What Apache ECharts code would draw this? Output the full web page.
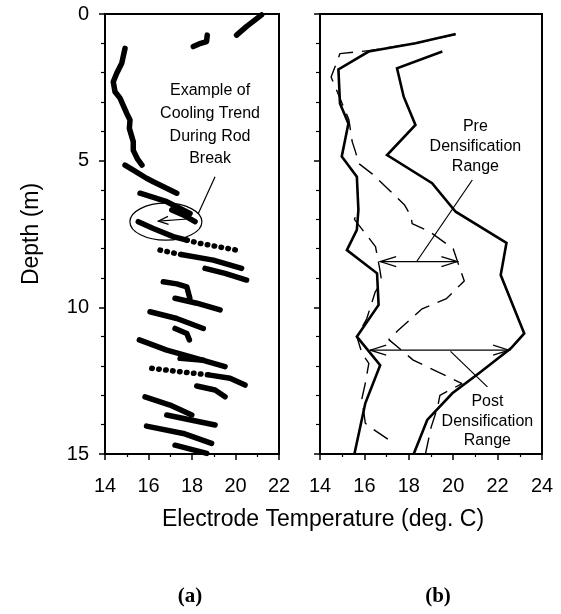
<!DOCTYPE html>
<html><head><meta charset="utf-8">
<script src="https://cdn.jsdelivr.net/npm/echarts@6.0.0/dist/echarts.min.js"></script>
<style>html,body{margin:0;padding:0;background:#fff}#c{width:561px;height:614px}</style>
</head><body><div id="c"></div>
<script>
// ---------- DATA ----------
// Axis ticks
const depthTicks = [0, 5, 10, 15];
const tempTicksA = [14, 16, 18, 20, 22];
const tempTicksB = [14, 16, 18, 20, 22, 24];

// Panel (a): electrode temperature streaks, [temperature degC, depth m]
const streak01 = [[20.05,0.72],[20.5,0.43],[21.2,0.03]];
const streak02 = [[18.06,1.11],[18.4,1.0],[18.67,0.94],[18.7,0.72]];
const streak03 = [[14.92,1.17],[14.77,1.68],[14.54,2.02],[14.38,2.31],[14.46,2.65],[14.69,2.87],[15.0,3.39],[15.15,3.61],[15.12,3.9],[15.3,4.35],[15.3,4.65],[15.5,4.95],[15.7,5.15]];
const streak04 = [[14.92,5.15],[15.3,5.32],[15.91,5.6],[16.22,5.72],[17.3,6.11]];
const streak05 = [[15.61,6.11],[16.84,6.4],[17.91,6.8]];
const streak06 = [[17.07,6.68],[17.6,6.85],[18.14,7.08]];
const streak07 = [[15.53,7.08],[16.22,7.31],[17.14,7.59],[17.76,7.71]];
const streak08 = [[17.5,8.2],[18.98,8.39],[20.28,8.67]];
const streak09 = [[18.6,8.67],[19.52,8.84],[20.51,9.07]];
const streak10 = [[16.68,9.13],[17.3,9.2],[17.76,9.3],[17.9,9.69]];
const streak11 = [[17.22,9.69],[18.22,9.86],[19.29,10.09]];
const streak12 = [[16.07,10.15],[17.3,10.38],[18.52,10.72]];
const streak13 = [[17.22,10.72],[17.76,10.89],[17.88,11.11]];
const streak14 = [[15.58,11.11],[16.84,11.46],[17.91,11.68],[19.52,12.02]];
const streak15 = [[17.45,11.74],[18.52,11.8]];
const streak16 = [[18.83,12.31],[19.75,12.42],[20.44,12.65]];
const streak17 = [[18.22,12.68],[19.06,12.82],[19.52,13.05]];
const streak18 = [[15.84,13.05],[16.99,13.33],[17.99,13.67]];
const streak19 = [[16.84,13.67],[19.06,14.01]];
const streak20 = [[15.91,14.05],[17.6,14.3],[18.9,14.64]];
const streak21 = [[17.22,14.7],[18.68,14.98]];
// sparse (dotted) streaks
const dotted01 = [[17.76,7.71],[18.37,7.82],[20.05,8.05]];
const dotted02 = [[16.53,8.05],[17.5,8.2]];
const dotted03 = [[16.15,12.08],[17.5,12.2],[18.83,12.31]];

// Panel (b): temperature envelopes, [temperature degC, depth m]
const postLeft  = [[20.11,0.68],[18.3,1.0],[16.19,1.28],[14.83,1.89],[14.9,3.05],[15.28,3.73],[14.98,4.86],[15.66,5.55],[15.73,6.68],[15.66,7.36],[15.21,8.05],[16.57,8.84],[16.64,9.92],[15.66,11.0],[16.71,11.97],[16.04,13.27],[15.55,15.0]];
const postRight = [[19.51,1.28],[17.47,1.85],[17.77,2.82],[18.3,3.78],[17.02,4.81],[19.05,5.77],[20.11,6.74],[22.4,7.8],[22.14,8.9],[23.2,10.89],[22.6,11.4],[21.16,12.25],[19.96,12.93],[18.83,13.84],[18.22,15.0]];
const preLeft   = [[14.83,1.89],[14.9,3.05],[15.28,3.73],[14.98,4.86],[15.66,5.55],[15.73,6.68],[15.55,7.0],[16.5,7.93],[16.7,8.73],[16.78,9.13],[16.49,9.47],[16.1,10.4],[15.66,11.0],[15.89,11.57],[16.2,11.91],[16.04,12.59],[15.89,13.1],[16.04,13.95],[16.34,14.13],[17.32,14.63]];
const preRight  = [[20.1,0.7],[18.3,1.0],[16.2,1.25],[14.9,1.35],[14.5,2.15],[15.3,3.6],[15.45,4.35],[15.6,4.7],[15.75,5.1],[16.35,5.45],[16.7,5.7],[17.8,6.5],[18.1,6.9],[18.15,7.15],[18.9,7.4],[20.0,8.0],[20.2,8.45],[20.5,9.1],[19.7,9.7],[18.6,10.05],[17.5,10.8],[17.1,11.1],[18.2,11.8],[20.4,12.6],[19.4,13.0],[19.3,13.4],[19.0,14.1],[18.75,15.0]];

// Texts
const xTitle = 'Electrode Temperature (deg. C)';
const yTitle = 'Depth (m)';
const noteA = ['Example of', 'Cooling Trend', 'During Rod', 'Break'];
const notePre = ['Pre', 'Densification', 'Range'];
const notePost = ['Post', 'Densification', 'Range'];

// ---------- CHART ----------
const FONT = '"Liberation Sans", Arial, sans-serif';
const solidStreaks = [streak01,streak02,streak03,streak04,streak05,streak06,streak07,streak08,streak09,streak10,streak11,streak12,streak13,streak14,streak15,streak16,streak17,streak18,streak19,streak20,streak21];
const dottedStreaks = [dotted01,dotted02,dotted03];

function xAxisCfg(grid, ticks){
  return {
    gridIndex: grid, type: 'value', min: ticks[0], max: ticks[ticks.length-1], interval: 2,
    axisLine: {show: true, onZero: false, lineStyle: {color: '#000', width: 2}},
    axisTick: {show: true, inside: false, length: 6, lineStyle: {color: '#000', width: 1.5}},
    minorTick: {show: true, splitNumber: 2, length: 3, lineStyle: {color: '#000', width: 1.2}},
    axisLabel: {show: true, color: '#000', fontSize: 20, fontFamily: FONT, margin: 22,
      customValues: ticks},
    splitLine: {show: false}, minorSplitLine: {show: false}
  };
}
function yAxisCfg(grid, labels){
  return {
    gridIndex: grid, type: 'value', inverse: true, min: depthTicks[0], max: depthTicks[depthTicks.length-1], interval: 5,
    axisLine: {show: true, onZero: false, lineStyle: {color: '#000', width: 2}},
    axisTick: {show: true, inside: false, length: 6, lineStyle: {color: '#000', width: 1.5}},
    minorTick: {show: true, splitNumber: 5, length: 4, lineStyle: {color: '#000', width: 1.2}},
    axisLabel: {show: labels, color: '#000', fontSize: 20, fontFamily: FONT, margin: 16},
    splitLine: {show: false}, minorSplitLine: {show: false}
  };
}

const series = [];
solidStreaks.forEach(s => series.push({
  type: 'line', xAxisIndex: 0, yAxisIndex: 0, data: s, showSymbol: false, symbol: 'none',
  lineStyle: {color: '#000', width: 5.5, cap: 'round', join: 'round'}, silent: true
}));
dottedStreaks.forEach(s => series.push({
  type: 'line', xAxisIndex: 0, yAxisIndex: 0, data: s, showSymbol: false, symbol: 'none',
  lineStyle: {color: '#000', width: 5.5, cap: 'round', type: [0.5, 6.5]}, silent: true
}));
[postLeft, postRight].forEach(s => series.push({
  type: 'line', xAxisIndex: 1, yAxisIndex: 1, data: s, showSymbol: false, symbol: 'none',
  lineStyle: {color: '#000', width: 2.6, join: 'miter'}, silent: true
}));
[preLeft, preRight].forEach(s => series.push({
  type: 'line', xAxisIndex: 1, yAxisIndex: 1, data: s, showSymbol: false, symbol: 'none',
  lineStyle: {color: '#000', width: 1.4, type: [17, 9]}, silent: true
}));

const option = {
  animation: false,
  backgroundColor: '#fff',
  grid: [
    {left: 105, top: 14, width: 174, height: 440, show: true, borderColor: '#000', borderWidth: 2, backgroundColor: 'transparent'},
    {left: 320, top: 14, width: 222, height: 440, show: true, borderColor: '#000', borderWidth: 2, backgroundColor: 'transparent'}
  ],
  xAxis: [xAxisCfg(0, tempTicksA), xAxisCfg(1, tempTicksB)],
  yAxis: [yAxisCfg(0, true), yAxisCfg(1, false)],
  series: series
};

const chart = echarts.init(document.getElementById('c'), null, {renderer: 'canvas'});
chart.setOption(option);

// ---------- ANNOTATIONS ----------
function P(g, p){ return chart.convertToPixel({gridIndex: g}, p); }
const g = [];
function line(a, b, w){ g.push({type: 'line', shape: {x1: a[0], y1: a[1], x2: b[0], y2: b[1]}, style: {stroke: '#000', lineWidth: w || 1.2}, silent: true}); }
function head(tip, from, len, half){
  const dx = from[0]-tip[0], dy = from[1]-tip[1], L = Math.hypot(dx, dy);
  const ux = dx/L, uy = dy/L;
  g.push({type: 'polyline', shape: {points: [
    [tip[0]+ux*len - uy*half, tip[1]+uy*len + ux*half], tip, [tip[0]+ux*len + uy*half, tip[1]+uy*len - ux*half]]},
    style: {stroke: '#000', lineWidth: 1.2, fill: null}, silent: true});
}
function text(lines, pos, size, lh){
  g.push({type: 'text', x: pos[0], y: pos[1], style: {text: lines.join('\n'), fill: '#000', font: size + 'px ' + FONT,
    align: 'center', verticalAlign: 'middle', lineHeight: lh}, silent: true});
}
// panel (a)
text(noteA, P(0, [18.83, 3.78]), 16, 22.7);
const ec = P(0, [16.8, 7.08]);
g.push({type: 'ellipse', shape: {cx: ec[0], cy: ec[1], rx: 36, ry: 18.5}, style: {stroke: '#000', lineWidth: 1.2, fill: null}, silent: true});
const aFrom = P(0, [17.95, 6.98]), aTip = P(0, [16.45, 7.06]);
line(aFrom, aTip); head(aTip, aFrom, 10, 4);
line(P(0, [18.29, 6.8]), P(0, [19.06, 5.55]));
// panel (b)
const preA = P(1, [16.71, 8.44]), preB = P(1, [20.19, 8.44]);
line(preA, preB); head(preA, preB, 16, 5); head(preB, preA, 16, 5);
line(P(1, [18.37, 8.42]), P(1, [20.86, 5.66]));
text(notePre, P(1, [21.0, 4.53]), 16, 20);
const postA = P(1, [16.26, 11.46]), postB = P(1, [22.52, 11.46]);
line(postA, postB); head(postA, postB, 16, 5); head(postB, postA, 16, 5);
line(P(1, [19.88, 11.5]), P(1, [21.54, 12.71]));
text(notePost, P(1, [21.54, 13.88]), 16, 19.5);
// titles
text([xTitle], [323, 520], 23, 26);
g.push({type: 'text', x: 32, y: 234, rotation: Math.PI/2, style: {text: yTitle, fill: '#000', font: '23px ' + FONT, align: 'center', verticalAlign: 'middle'}, silent: true});
g.push({type: 'text', x: 190, y: 597, style: {text: '(a)', fill: '#000', font: 'bold 21px "Liberation Serif", "Times New Roman", serif', align: 'center', verticalAlign: 'middle'}, silent: true});
g.push({type: 'text', x: 438, y: 597, style: {text: '(b)', fill: '#000', font: 'bold 21px "Liberation Serif", "Times New Roman", serif', align: 'center', verticalAlign: 'middle'}, silent: true});
chart.setOption({graphic: g});
</script>
</body></html>
